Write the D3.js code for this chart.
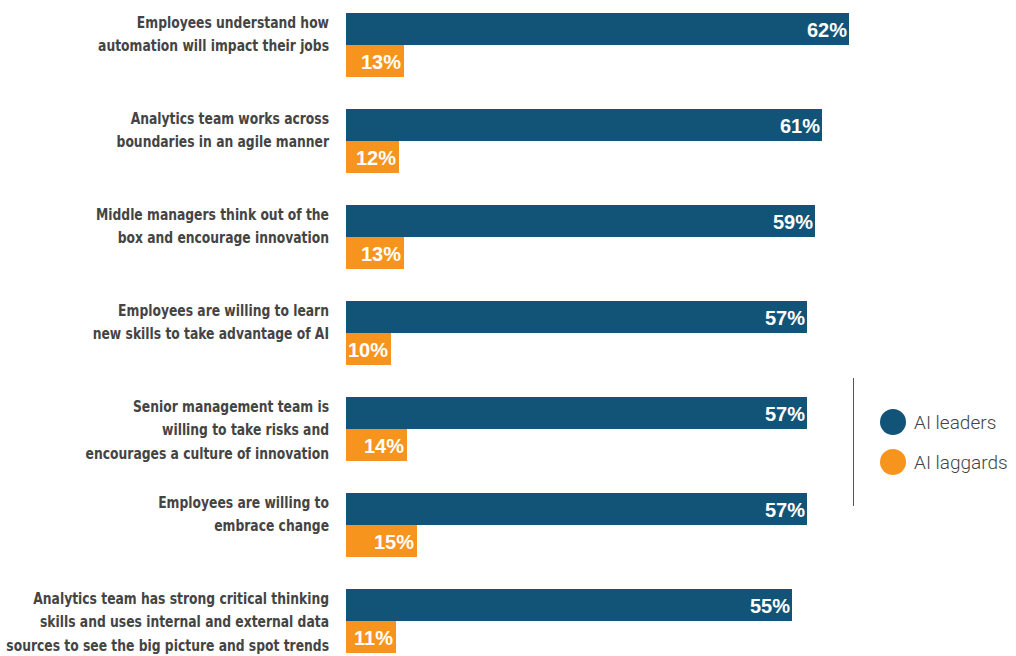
<!DOCTYPE html>
<html>
<head>
<meta charset="utf-8">
<script src="https://cdn.jsdelivr.net/npm/d3@7"></script>
<style>
  body { margin: 0; background: #fff; }
  .cat { font-family: "DejaVu Sans Condensed", "Liberation Sans Narrow", sans-serif; font-weight: bold; font-size: 15.5px; fill: #444; }
  .val { font-family: "Liberation Sans", sans-serif; font-weight: bold; font-size: 20px; fill: #fff; }
  .leg { font-family: Roboto, sans-serif; font-weight: 300; font-size: 19px; fill: #444; }
</style>
</head>
<body>
<div id="chart"></div>
<script>
// categories, one entry per line of the label
var categories = [
  ["Employees understand how", "automation will impact their jobs"],
  ["Analytics team works across", "boundaries in an agile manner"],
  ["Middle managers think out of the", "box and encourage innovation"],
  ["Employees are willing to learn", "new skills to take advantage of AI"],
  ["Senior management team is", "willing to take risks and", "encourages a culture of innovation"],
  ["Employees are willing to", "embrace change"],
  ["Analytics team has strong critical thinking", "skills and uses internal and external data", "sources to see the big picture and spot trends"]
];
var leaders = [62, 61, 59, 57, 57, 57, 55];
var laggards = [13, 12, 13, 10, 14, 15, 11];
var seriesNames = ["AI leaders", "AI laggards"];
var colors = ["#115478", "#f7941d"];

var width = 1016, height = 656;
var x0 = 346;
var barH = 32;

var svg = d3.select("#chart").append("svg")
    .attr("width", width)
    .attr("height", height);

// the original bars are not drawn to one linear scale: piecewise scales copy them
var xLead = d3.scaleLinear()
    .domain([0, 55, 57, 59, 61, 62])
    .range([0, 446, 461, 469, 476, 503]);
var xLag = d3.scaleLinear()
    .domain([0, 10, 11, 12, 13, 14, 15])
    .range([0, 45, 50, 53, 58, 61, 71]);

var y = d3.scalePoint()
    .domain(d3.range(categories.length))
    .range([13, 13 + 96 * (categories.length - 1)]);

var g = svg.selectAll("g.group")
    .data(categories)
    .enter().append("g")
    .attr("class", "group")
    .attr("transform", function(d, i) { return "translate(0," + y(i) + ")"; });

g.append("rect")
    .attr("x", x0)
    .attr("y", 0)
    .attr("height", barH)
    .attr("width", function(d, i) { return xLead(leaders[i]); })
    .attr("fill", colors[0]);

g.append("rect")
    .attr("x", x0)
    .attr("y", barH)
    .attr("height", barH)
    .attr("width", function(d, i) { return xLag(laggards[i]); })
    .attr("fill", colors[1]);

g.append("text")
    .attr("class", "val")
    .attr("x", function(d, i) { return x0 + xLead(leaders[i]) - 2; })
    .attr("y", barH / 2 + 7.5)
    .attr("text-anchor", "end")
    .text(function(d, i) { return leaders[i] + "%"; });

g.append("text")
    .attr("class", "val")
    .attr("x", function(d, i) { return x0 + xLag(laggards[i]) - 3; })
    .attr("y", barH + barH / 2 + 7.5)
    .attr("text-anchor", "end")
    .text(function(d, i) { return laggards[i] + "%"; });

// labels are a condensed bold face: squeeze the text horizontally
g.append("g")
    .attr("transform", "translate(329,0) scale(0.885,1)")
  .append("text")
    .attr("class", "cat")
    .attr("text-anchor", "end")
    .selectAll("tspan")
    .data(function(d) { return d; })
    .enter().append("tspan")
    .attr("x", 0)
    .attr("y", function(d, j) { return 14.5 + j * 24; })
    .text(function(d) { return d; });

// legend
svg.append("line")
    .attr("x1", 853.5).attr("x2", 853.5)
    .attr("y1", 378).attr("y2", 506)
    .attr("stroke", "#555")
    .attr("stroke-width", 1);

var leg = svg.selectAll("g.leg")
    .data(seriesNames)
    .enter().append("g")
    .attr("transform", function(d, i) { return "translate(893," + (422 + i * 40) + ")"; });

leg.append("circle")
    .attr("r", 13)
    .attr("fill", function(d, i) { return colors[i]; });

leg.append("text")
    .attr("class", "leg")
    .attr("x", 21)
    .attr("y", 7)
    .text(function(d) { return d; });
</script>
</body>
</html>
